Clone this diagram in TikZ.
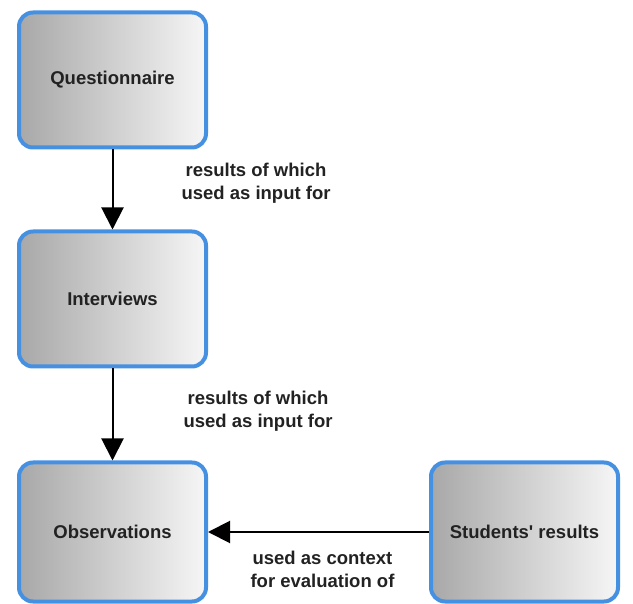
\documentclass[tikz,border=0pt]{standalone}
\usepackage{fontspec}
\setmainfont{Liberation Sans}
\usetikzlibrary{arrows.meta,positioning}
\definecolor{BoxBlue}{RGB}{70,144,226}
\definecolor{BoxGray}{RGB}{168,168,168}
\definecolor{BoxLight}{RGB}{246,246,246}
\definecolor{TextDark}{RGB}{34,34,34}
\tikzset{
  sbox/.style ={rectangle, rounded corners=14pt, draw=BoxBlue, line width=4pt,
                left color=BoxGray, right color=BoxLight, text=TextDark,
                font=\fontsize{18.5}{23}\selectfont\bfseries,
                minimum width=187pt, minimum height=135pt, inner sep=0pt},
  lbl/.style  ={align=center, text=TextDark, inner sep=0pt,
                font=\fontsize{18.5}{23}\selectfont\bfseries},
  arr/.style  ={-{Triangle[length=22pt,width=22pt]}, draw=black, line width=2pt},
}
\begin{document}
\begin{tikzpicture}[x=1pt,y=1pt]
  \useasboundingbox (0,0) rectangle (633,-604);
  \node[sbox] (quest) at (112.5,-80) {Questionnaire};
  \node[sbox,below=80pt of quest] (interv) {Interviews};
  \node[sbox,minimum height=139pt,below=92pt of interv] (observ) {Observations};
  \node[sbox,minimum height=139pt,right=221pt of observ] (studres) {Students\textquotesingle\ results};
  \draw[arr] (quest) -- node[lbl,right=68pt,yshift=6pt] (lab1)
       {results of which\\used as input for} (interv);
  \draw[arr] (interv) -- node[lbl,right=70pt,yshift=3pt] (lab2)
       {results of which\\used as input for} (observ);
  \draw[arr] (studres) -- node[lbl,below=18pt,xshift=4pt] (lab3)
       {used as context\\for evaluation of} (observ);
\end{tikzpicture}
\end{document}
